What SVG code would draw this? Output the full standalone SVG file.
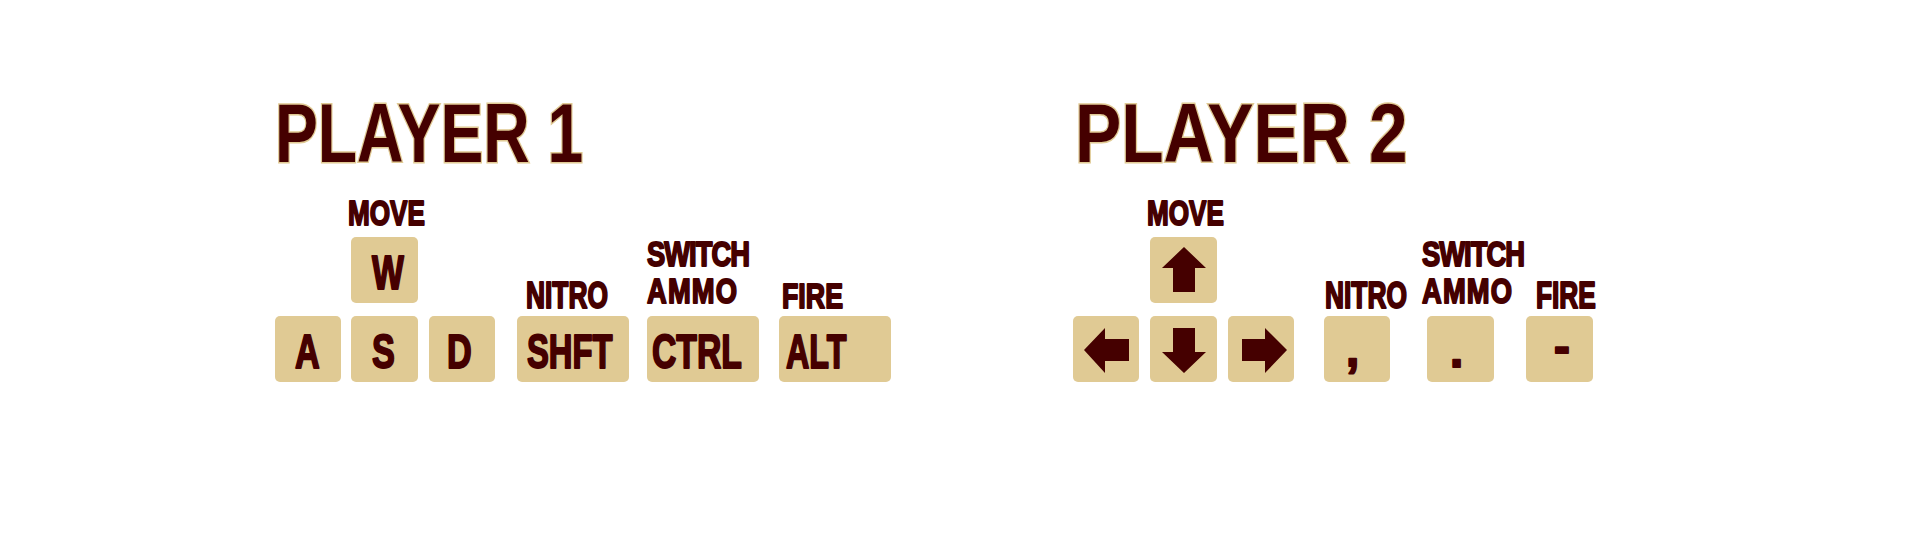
<svg xmlns="http://www.w3.org/2000/svg" width="1920" height="540" viewBox="0 0 1920 540">
<style>
.key{fill:#e0ca94}
.title{font-family:"Liberation Sans",Arial,sans-serif;font-weight:bold;font-size:84px;fill:#450000;stroke:#e0ca94;stroke-width:3;paint-order:stroke;stroke-linejoin:miter}
.lbl{font-family:"Liberation Sans",Arial,sans-serif;font-weight:bold;font-size:36px;fill:#450000;stroke:#450000;stroke-width:2;stroke-linejoin:round}
.kt{font-family:"Liberation Sans",Arial,sans-serif;font-weight:bold;font-size:47.5px;fill:#450000;stroke:#450000;stroke-width:2;stroke-linejoin:round}
.arr{fill:#450000}
</style>
<rect width="1920" height="540" fill="#ffffff"/>

<g id="title-p1"><text class="title" transform="translate(275,162) scale(0.765,1)">PLAYER 1</text></g>
<g id="title-p2"><text class="title" transform="translate(1075,162) scale(0.825,1)">PLAYER 2</text></g>

<g id="p1-labels">
<text class="lbl" transform="translate(348,225) scale(0.726,1)">MOVE</text>
<text class="lbl" transform="translate(526,308) scale(0.732,1)">NITRO</text>
<text class="lbl" transform="translate(647,0) scale(0.76,1)"><tspan x="0" y="266" letter-spacing="-1.3">SWITCH</tspan><tspan x="0" y="303" letter-spacing="1.5">AMMO</tspan></text>
<text class="lbl" transform="translate(782,308) scale(0.744,1)">FIRE</text>
</g>

<g id="key-w"><rect class="key" x="351" y="237" width="67" height="66" rx="5"/><text class="kt" transform="translate(372,289) scale(0.71,1)">W</text></g>
<g id="key-a"><rect class="key" x="275" y="316" width="66" height="66" rx="5"/><text class="kt" transform="translate(295,368) scale(0.72,1)">A</text></g>
<g id="key-s"><rect class="key" x="351" y="316" width="67" height="66" rx="5"/><text class="kt" transform="translate(372,368) scale(0.72,1)">S</text></g>
<g id="key-d"><rect class="key" x="429" y="316" width="66" height="66" rx="5"/><text class="kt" transform="translate(447,368) scale(0.72,1)">D</text></g>
<g id="key-shft"><rect class="key" x="517" y="316" width="112" height="66" rx="5"/><text class="kt" transform="translate(527,368) scale(0.69,1)">SHFT</text></g>
<g id="key-ctrl"><rect class="key" x="647" y="316" width="112" height="66" rx="5"/><text class="kt" transform="translate(652,368) scale(0.71,1)">CTRL</text></g>
<g id="key-alt"><rect class="key" x="779" y="316" width="112" height="66" rx="5"/><text class="kt" transform="translate(786,368) scale(0.68,1)">ALT</text></g>

<g id="p2-labels">
<text class="lbl" transform="translate(1147,225) scale(0.726,1)">MOVE</text>
<text class="lbl" transform="translate(1325,308) scale(0.732,1)">NITRO</text>
<text class="lbl" transform="translate(1422,0) scale(0.76,1)"><tspan x="0" y="266" letter-spacing="-1.3">SWITCH</tspan><tspan x="0" y="303" letter-spacing="1.5">AMMO</tspan></text>
<text class="lbl" transform="translate(1536,308) scale(0.73,1)">FIRE</text>
</g>

<g id="key-up"><rect class="key" x="1150" y="237" width="67" height="66" rx="5"/><polygon class="arr" points="1184,247 1206,268 1195,268 1195,292 1173,292 1173,268 1162,268"/></g>
<g id="key-left"><rect class="key" x="1073" y="316" width="66" height="66" rx="5"/><polygon class="arr" points="1084,350 1105,328 1105,339 1129,339 1129,361 1105,361 1105,373"/></g>
<g id="key-down"><rect class="key" x="1150" y="316" width="67" height="66" rx="5"/><polygon class="arr" points="1173,328 1195,328 1195,352 1206,352 1184,373 1162,352 1173,352"/></g>
<g id="key-right"><rect class="key" x="1228" y="316" width="66" height="66" rx="5"/><polygon class="arr" points="1242,339 1265,339 1265,328 1287,350 1265,373 1265,361 1242,361"/></g>
<g id="key-comma"><rect class="key" x="1324" y="316" width="66" height="66" rx="5"/><text class="kt" x="1346" y="366">,</text></g>
<g id="key-period"><rect class="key" x="1427" y="316" width="67" height="66" rx="5"/><text class="kt" x="1450" y="367">.</text></g>
<g id="key-minus"><rect class="key" x="1526" y="316" width="67" height="66" rx="5"/><text class="kt" x="1554" y="363">-</text></g>
</svg>
